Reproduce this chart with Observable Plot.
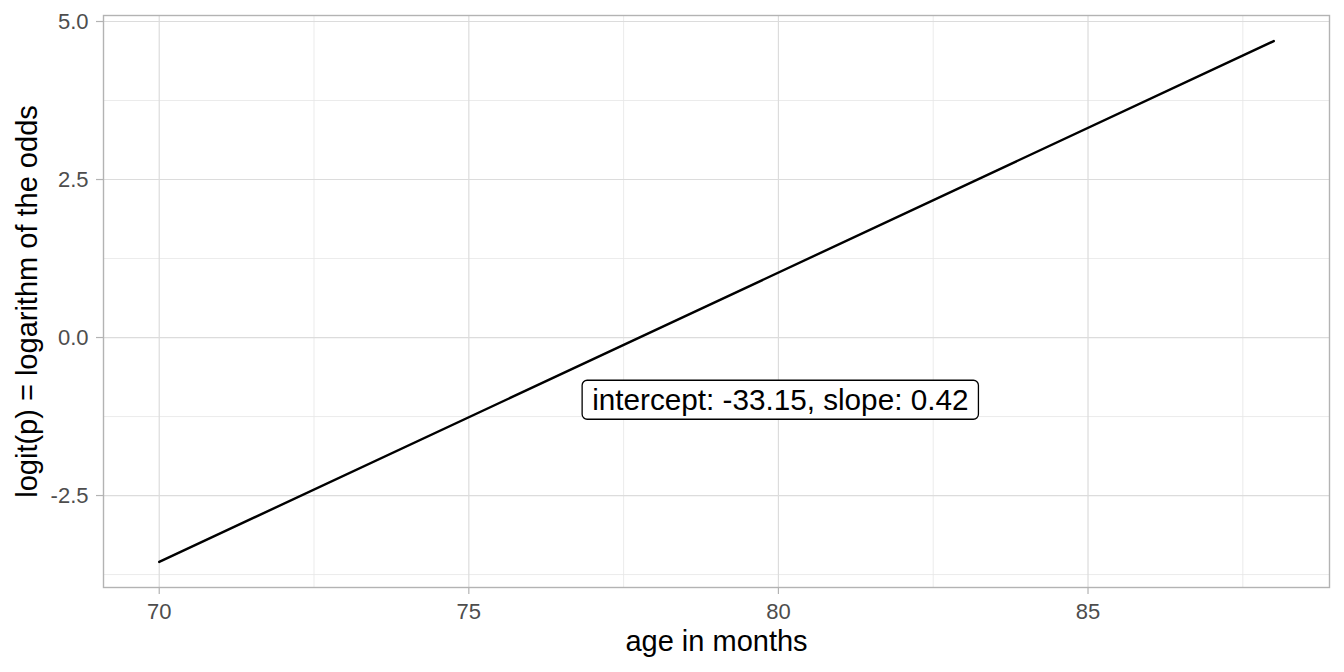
<!DOCTYPE html>
<html>
<head>
<meta charset="utf-8">
<script src="https://cdn.jsdelivr.net/npm/d3@7"></script>
<script src="https://cdn.jsdelivr.net/npm/@observablehq/plot@0.6"></script>
<style>
  html, body { margin: 0; padding: 0; background: #fff; }
  svg { font-family: "Liberation Sans", Arial, Helvetica, sans-serif; }
</style>
</head>
<body>
<div id="chart"></div>
<script>
// Data
const ageMonths = [70, 88];
const logitValues = [-3.55, 4.69];
const xTicks = [70, 75, 80, 85];
const xTickLabels = ["70", "75", "80", "85"];
const xMinor = [72.5, 77.5, 82.5, 87.5];
const yTicks = [-2.5, 0, 2.5, 5];
const yTickLabels = ["-2.5", "0.0", "2.5", "5.0"];
const yMinor = [-3.75, -1.25, 1.25, 3.75];
const labelText = ["intercept: -33.15, slope: 0.42"];
const labelPos = [{x: 80.03, y: -1.0}];

const lineData = ageMonths.map((a, i) => ({age: a, logit: logitValues[i]}));

const grid = "#e6e6e6";
const border = "#b3b3b3";
const tickText = "#4d4d4d";

const chart = Plot.plot({
  width: 1344,
  height: 672,
  marginLeft: 103,
  marginRight: 15,
  marginTop: 15,
  marginBottom: 85,
  x: {domain: [69.1, 88.9]},
  y: {domain: [-3.955, 5.095]},
  style: {fontFamily: "'Liberation Sans', Arial, sans-serif", background: "#fff"},
  marks: [
    Plot.ruleX(xMinor, {stroke: grid, strokeWidth: 0.8}),
    Plot.ruleY(yMinor, {stroke: grid, strokeWidth: 0.8}),
    Plot.ruleX(xTicks, {stroke: "#dcdcdc", strokeWidth: 1.2}),
    Plot.ruleY(yTicks, {stroke: "#dcdcdc", strokeWidth: 1.2}),
    Plot.frame({stroke: border, strokeWidth: 1.4}),
    Plot.axisX(xTicks, {tickSize: 7, stroke: border, strokeWidth: 1.2, text: null, label: null}),
    Plot.axisY(yTicks, {tickSize: 7, stroke: border, strokeWidth: 1.2, text: null, label: null}),
    Plot.text(xTicks, {x: d => d, frameAnchor: "bottom", lineAnchor: "top", textAnchor: "middle", dy: 16, fontSize: 22, fill: tickText, text: (d, i) => xTickLabels[i]}),
    Plot.text(yTicks, {y: d => d, frameAnchor: "left", lineAnchor: "middle", textAnchor: "end", dx: -15, fontSize: 22, fill: tickText, text: (d, i) => yTickLabels[i]}),
    Plot.line(lineData, {x: "age", y: "logit", stroke: "#000", strokeWidth: 2.4}),
    Plot.text(labelPos, {x: "x", y: "y", text: (d, i) => labelText[i], fontSize: 29.7, fill: "#000", className: "fitlabel"}),
    Plot.text(["age in months"], {frameAnchor: "bottom", lineAnchor: "middle", textAnchor: "middle", dy: 54, fontSize: 29, fill: "#000", text: d => d}),
    Plot.text(["logit(p) = logarithm of the odds"], {frameAnchor: "left", lineAnchor: "middle", textAnchor: "middle", dx: -76, rotate: -90, fontSize: 29, fill: "#000", text: d => d})
  ]
});
document.getElementById("chart").appendChild(chart);

// Add a rounded box behind the fit label
const lbl = chart.querySelector(".fitlabel text");
if (lbl) {
  const bb = lbl.getBBox();
  const padX = 10, padY = 3;
  const rect = document.createElementNS("http://www.w3.org/2000/svg", "rect");
  rect.setAttribute("x", bb.x - padX);
  rect.setAttribute("y", bb.y - padY);
  rect.setAttribute("width", bb.width + 2 * padX);
  rect.setAttribute("height", bb.height + 2 * padY);
  rect.setAttribute("rx", 5);
  rect.setAttribute("fill", "#fff");
  rect.setAttribute("stroke", "#000");
  rect.setAttribute("stroke-width", 1.3);
  const g = lbl.parentNode;
  const t = lbl.getAttribute("transform");
  if (t) rect.setAttribute("transform", t);
  g.insertBefore(rect, lbl);
}
</script>
</body>
</html>
